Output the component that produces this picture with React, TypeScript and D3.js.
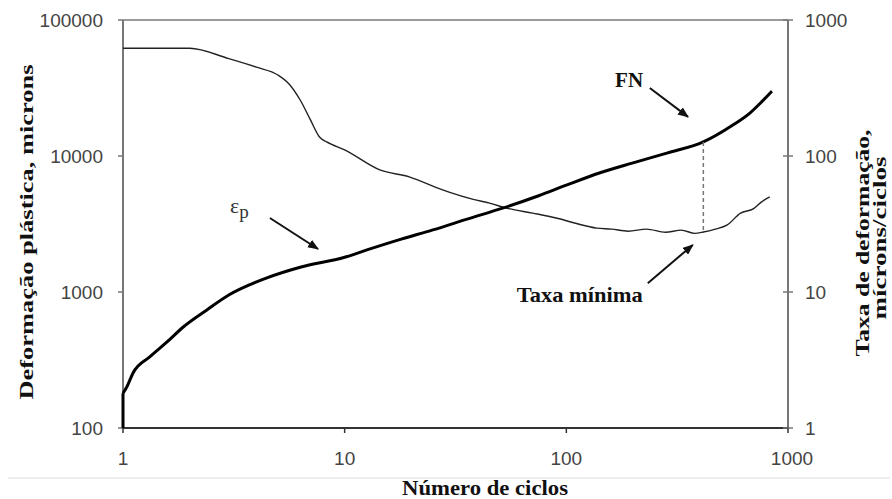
import React from "react";
import * as d3 from "d3";

// Number of cycles (x) and plastic deformation FN (left axis, microns)
const fnCycles = [1, 1, 1.04, 1.11, 1.32, 1.58, 1.87, 2.39, 3, 4.46, 6.3, 10, 12.6, 18, 25, 36, 52, 75, 100, 141, 200, 284, 415, 564, 673, 760, 846];
const fnValues = [100, 180, 200, 254, 333, 429, 553, 738, 950, 1270, 1520, 1800, 2040, 2450, 2860, 3450, 4150, 5100, 6100, 7500, 8900, 10500, 12700, 16900, 20700, 25000, 30000];

// Strain rate (right axis, microns/cycle)
const rateCycles = [1, 2, 3, 4, 5, 5.6, 6.3, 7, 7.7, 8.3, 10, 14.4, 19.7, 25, 29.8, 38, 45, 55, 70.6, 90, 110, 137, 160, 190, 230, 280, 330, 380, 415, 470, 530, 611, 700, 760, 827];
const rateValues = [620, 620, 520, 450, 394, 340, 258, 185, 138, 127, 111, 79, 70, 60, 54, 48, 45, 41, 38, 35, 32, 29.5, 29, 28, 29, 27.5, 28.5, 27, 27.6, 29, 31, 38, 41, 46, 50];

const xTickValues = [1, 10, 100, 1000];
const leftTickValues = [100, 1000, 10000, 100000];
const rightTickValues = [1, 10, 100, 1000];
const xTickLabels = ["1", "10", "100", "1000"];
const leftTickLabels = ["100", "1000", "10000", "100000"];
const rightTickLabels = ["1", "10", "100", "1000"];

// Minimum rate marker (cycles)
const minRateCycle = 415;
const minRateValue = 27.6;

// Annotations (data coordinates: cycles, left-axis microns)
const fnLabel = { text: "FN", x: 166, y: 32100 };
const fnArrow = { x1: 238, y1: 31600, x2: 354, y2: 19400 };
const epLabel = { x: 3.04, y: 3810 };
const epArrow = { x1: 4.6, y1: 3500, x2: 7.58, y2: 2070 };
const minLabel = { text: "Taxa mínima", x: 59.8, y: 843 };
const minArrow = { x1: 233, y1: 1160, x2: 372, y2: 2220 };

const W = 892;
const H = 499;
const L = 123, R = 788, T = 20, B = 428;

export default function App() {
  const x = d3.scaleLog().domain([1, 1000]).range([L, R]);
  const yL = d3.scaleLog().domain([100, 100000]).range([B, T]);
  const yR = d3.scaleLog().domain([1, 1000]).range([B, T]);

  const fnData = fnCycles.map((c, i) => [c, fnValues[i]] as [number, number]);
  const rateData = rateCycles.map((c, i) => [c, rateValues[i]] as [number, number]);

  const fnStart = d3.line<[number, number]>().x((d) => x(d[0])).y((d) => yL(d[1]));
  const fnLine = d3.line<[number, number]>().x((d) => x(d[0])).y((d) => yL(d[1])).curve(d3.curveMonotoneX);
  const rateLine = d3.line<[number, number]>().x((d) => x(d[0])).y((d) => yR(d[1])).curve(d3.curveMonotoneX);

  const fnAtMin = Math.exp(
    d3.scaleLinear().domain(fnCycles.slice(1).map(Math.log)).range(fnValues.slice(1).map(Math.log))(Math.log(minRateCycle))
  );

  const tickFont = "'Liberation Sans', Arial, sans-serif";
  const titleFont = "'Liberation Serif', 'Times New Roman', serif";

  return (
    <svg width={W} height={H} style={{ position: "absolute", left: 0, top: 0, background: "#fff" }}>
      <defs>
        <marker id="ah" viewBox="0 0 10 8" refX="9" refY="4" markerWidth="11" markerHeight="9" markerUnits="userSpaceOnUse" orient="auto">
          <path d="M0,0 L10,4 L0,8 z" fill="#111" />
        </marker>
      </defs>
      <rect x={0} y={0} width={W} height={H} fill="#fff" />
      <line x1={8} x2={890} y1={478} y2={478} stroke="#eeeeee" strokeWidth={2} />

      {/* plot frame */}
      <line x1={L} x2={R} y1={T} y2={T} stroke="#9a9a9a" strokeWidth={2} />
      <line x1={L} x2={L} y1={T} y2={B} stroke="#777" strokeWidth={2} />
      <line x1={R} x2={R} y1={T} y2={B} stroke="#777" strokeWidth={2} />
      <line x1={L} x2={R} y1={B} y2={B} stroke="#333" strokeWidth={2} />

      {/* left ticks */}
      {leftTickValues.map((v, i) => (
        <g key={"l" + v}>
          <line x1={L - 5} x2={L} y1={yL(v)} y2={yL(v)} stroke="#777" strokeWidth={1.5} />
          <text x={103} y={yL(v)} dy="0.36em" textAnchor="end" fontFamily={tickFont} fontSize={19} fill="#444">
            {leftTickLabels[i]}
          </text>
        </g>
      ))}
      {/* right ticks */}
      {rightTickValues.map((v, i) => (
        <g key={"r" + v}>
          <line x1={R - 5} x2={R + 5} y1={yR(v)} y2={yR(v)} stroke="#777" strokeWidth={1.5} />
          <text x={805} y={yR(v)} dy="0.36em" textAnchor="start" fontFamily={tickFont} fontSize={19} fill="#444">
            {rightTickLabels[i]}
          </text>
        </g>
      ))}
      {/* x ticks */}
      {xTickValues.map((v, i) => (
        <g key={"x" + v}>
          <line x1={x(v)} x2={x(v)} y1={B} y2={B + 5} stroke="#333" strokeWidth={1.5} />
          <text x={x(v) + (i === 3 ? 4 : 0)} y={465} textAnchor="middle" fontFamily={tickFont} fontSize={19} fill="#444">
            {xTickLabels[i]}
          </text>
        </g>
      ))}

      {/* series */}
      <path d={rateLine(rateData) || ""} fill="none" stroke="#222" strokeWidth={1.4} strokeLinejoin="round" />
      <path d={fnStart(fnData.slice(0, 2)) || ""} fill="none" stroke="#000" strokeWidth={3} />
      <path d={fnLine(fnData.slice(1)) || ""} fill="none" stroke="#000" strokeWidth={3} strokeLinejoin="round" />

      {/* minimum rate marker */}
      <line x1={x(minRateCycle)} x2={x(minRateCycle)} y1={yL(fnAtMin)} y2={yR(minRateValue)} stroke="#777" strokeWidth={1.5} strokeDasharray="4,3" />

      {/* annotations */}
      <text x={x(fnLabel.x)} y={yL(fnLabel.y)} fontFamily={titleFont} fontWeight="bold" fontSize={21} fill="#111">
        {fnLabel.text}
      </text>
      <line x1={x(fnArrow.x1)} y1={yL(fnArrow.y1)} x2={x(fnArrow.x2)} y2={yL(fnArrow.y2)} stroke="#111" strokeWidth={2} markerEnd="url(#ah)" />

      <text x={x(epLabel.x)} y={yL(epLabel.y)} fontFamily={titleFont} fontSize={22} fill="#333">
        ε<tspan dy="5" fontSize={19}>p</tspan>
      </text>
      <line x1={x(epArrow.x1)} y1={yL(epArrow.y1)} x2={x(epArrow.x2)} y2={yL(epArrow.y2)} stroke="#111" strokeWidth={2} markerEnd="url(#ah)" />

      <text x={x(minLabel.x)} y={yL(minLabel.y)} fontFamily={titleFont} fontWeight="bold" fontSize={21} fill="#111" textLength={126} lengthAdjust="spacingAndGlyphs">
        {minLabel.text}
      </text>
      <line x1={x(minArrow.x1)} y1={yL(minArrow.y1)} x2={x(minArrow.x2)} y2={yL(minArrow.y2)} stroke="#111" strokeWidth={2} markerEnd="url(#ah)" />

      {/* axis titles */}
      <text x={485} y={495} textAnchor="middle" fontFamily={titleFont} fontWeight="bold" fontSize={21} fill="#111" textLength={166} lengthAdjust="spacingAndGlyphs">
        Número de ciclos
      </text>
      <text transform="translate(33,232) rotate(-90)" textAnchor="middle" fontFamily={titleFont} fontWeight="bold" fontSize={18} fill="#111" textLength={335} lengthAdjust="spacingAndGlyphs">
        Deformação plástica, microns
      </text>
      <text transform="translate(869,243) rotate(-90)" textAnchor="middle" fontFamily={titleFont} fontWeight="bold" fontSize={18} fill="#111" textLength={227} lengthAdjust="spacingAndGlyphs">
        Taxa de deformação,
      </text>
      <text transform="translate(886,238) rotate(-90)" textAnchor="middle" fontFamily={titleFont} fontWeight="bold" fontSize={18} fill="#111" textLength={163} lengthAdjust="spacingAndGlyphs">
        mícrons/ciclos
      </text>
    </svg>
  );
}
